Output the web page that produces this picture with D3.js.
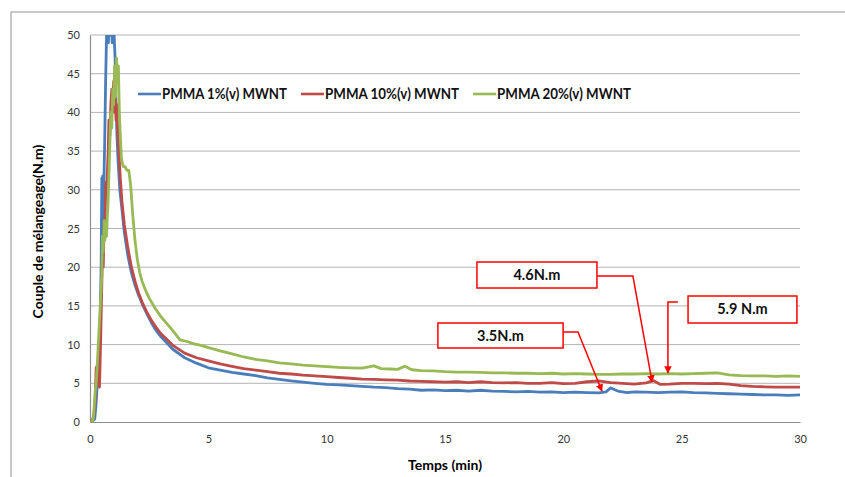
<!DOCTYPE html>
<html>
<head>
<meta charset="utf-8">
<script src="https://cdn.jsdelivr.net/npm/d3@7"></script>
<style>
  body { margin: 0; background: #fff; }
  text { font-family: Lato, "Open Sans", sans-serif; }
</style>
</head>
<body>
<script>
// [time (min), torque (N.m)]
var pmma1 = [[0,0],[0.1,0.1],[0.2,0.4],[0.25,2],[0.3,4.5],[0.33,7],[0.37,6],[0.4,9],[0.43,13],[0.47,20],
  [0.5,31.5],[0.52,24],[0.54,31.8],[0.56,22],[0.58,30],[0.62,36],[0.66,44],[0.7,50],[0.74,52],[0.78,49],
  [0.82,53],[0.86,50],[0.9,52],[0.94,49],[0.98,52],[1.02,50],[1.06,47],[1.1,41],[1.14,37],[1.19,33.5],
  [1.26,30],[1.35,27.5],[1.45,24.5],[1.6,21.5],[1.75,19.3],[1.9,17.7],[2.05,16.4],[2.2,15.3],[2.4,14],
  [2.6,12.8],[2.8,11.8],[3,11],[3.5,9.4],[4,8.3],[4.5,7.6],[5,7],[5.5,6.7],[6,6.4],[6.5,6.2],[7,6],
  [7.5,5.7],[8,5.5],[8.5,5.3],[9,5.15],[9.5,5],[10,4.85],[10.5,4.8],[11,4.7],[11.5,4.6],[12,4.5],
  [12.5,4.45],[13,4.3],[13.5,4.25],[14,4.1],[14.5,4.15],[15,4.05],[15.5,4.1],[16,4],[16.5,4.1],[17,4],
  [17.5,3.95],[18,3.9],[18.5,3.95],[19,3.85],[19.5,3.9],[20,3.8],[20.5,3.85],[21,3.8],[21.5,3.75],
  [21.8,3.9],[22,4.4],[22.3,4],[22.7,3.8],[23,3.9],[23.5,3.85],[24,3.8],[24.5,3.85],[25,3.9],[25.5,3.8],
  [26,3.75],[26.5,3.7],[27,3.65],[27.5,3.6],[28,3.55],[28.5,3.5],[29,3.5],[29.5,3.45],[30,3.5]];

var pmma10 = [[0,0],[0.1,0.2],[0.17,1],[0.22,3],[0.26,7],[0.3,7.2],[0.33,5],[0.36,7],[0.4,4.5],[0.43,8],
  [0.46,12],[0.5,18],[0.53,22],[0.56,20],[0.6,26],[0.63,25],[0.67,31],[0.7,30],[0.73,32],[0.77,35],
  [0.8,39],[0.84,37],[0.88,41],[0.92,43],[0.96,41],[1,44],[1.03,40],[1.06,43],[1.1,39],[1.13,41],
  [1.17,37.5],[1.22,35],[1.28,31.5],[1.35,28.5],[1.45,25.5],[1.6,22.5],[1.75,20],[1.9,18.2],[2.05,16.7],
  [2.2,15.5],[2.4,14.2],[2.6,13.1],[2.8,12.2],[3,11.4],[3.5,9.9],[4,8.9],[4.5,8.3],[5,7.9],[5.5,7.5],
  [6,7.2],[6.5,6.9],[7,6.7],[7.5,6.5],[8,6.3],[8.5,6.2],[9,6.05],[9.5,5.95],[10,5.85],[10.5,5.75],
  [11,5.65],[11.5,5.55],[12,5.5],[12.5,5.45],[13,5.4],[13.5,5.3],[14,5.25],[14.5,5.2],[15,5.15],
  [15.5,5.2],[16,5.1],[16.5,5.2],[17,5.1],[17.5,5.05],[18,5.1],[18.5,5],[19,5],[19.5,5.1],[20,4.95],
  [20.5,5],[21,5.2],[21.5,5.3],[22,5.1],[22.5,5],[23,4.9],[23.5,5.05],[23.8,5.35],[24.1,4.85],[24.5,4.9],
  [25,5],[25.5,5],[26,4.95],[26.5,5],[27,4.9],[27.5,4.7],[28,4.6],[28.5,4.55],[29,4.5],[29.5,4.5],[30,4.5]];

var pmma20 = [[0,0],[0.1,0],[0.14,0.5],[0.18,2],[0.22,4],[0.26,5],[0.3,7],[0.35,10],[0.4,13],[0.45,16],
  [0.5,19],[0.53,24],[0.56,22],[0.6,26],[0.63,23.5],[0.66,25.5],[0.7,24],[0.73,26.5],[0.76,28],[0.8,32],
  [0.84,36],[0.88,40],[0.92,38],[0.96,43],[1,41],[1.04,46],[1.08,42],[1.12,47],[1.16,44],[1.2,46],
  [1.24,40],[1.28,37],[1.33,34],[1.4,33],[1.48,33],[1.56,32.5],[1.64,32.5],[1.72,30.5],[1.8,27],
  [1.9,23.5],[2,21],[2.1,19.3],[2.2,18.2],[2.35,17],[2.5,16],[2.75,14.7],[3,13.6],[3.25,12.7],[3.5,11.8],
  [3.8,10.6],[4.1,10.4],[4.4,10.1],[4.7,9.9],[5,9.6],[5.5,9.2],[6,8.8],[6.5,8.4],[7,8.1],[7.5,7.9],
  [8,7.65],[8.5,7.5],[9,7.35],[9.5,7.25],[10,7.15],[10.5,7.05],[11,7],[11.5,6.95],[12,7.25],[12.3,6.9],
  [12.7,6.85],[13,6.8],[13.3,7.2],[13.6,6.75],[14,6.65],[14.5,6.6],[15,6.5],[15.5,6.45],[16,6.45],
  [16.5,6.4],[17,6.35],[17.5,6.35],[18,6.3],[18.5,6.3],[19,6.25],[19.5,6.3],[20,6.2],[20.5,6.25],
  [21,6.2],[21.5,6.15],[22,6.15],[22.5,6.2],[23,6.2],[23.5,6.25],[24,6.2],[24.5,6.25],[25,6.2],
  [25.5,6.25],[26,6.3],[26.5,6.35],[27,6.1],[27.5,6],[28,5.95],[28.5,5.95],[29,5.9],[29.5,5.95],[30,5.9]];

var seriesNames = ["PMMA 1%(v) MWNT", "PMMA 10%(v) MWNT", "PMMA 20%(v) MWNT"];
var xTicks = [0, 5, 10, 15, 20, 25, 30];
var yTicks = [0, 5, 10, 15, 20, 25, 30, 35, 40, 45, 50];

// callouts: label, box corners (t, v), leader points (t, v) ending on the curve
var noteLabels = ["4.6N.m", "5.9 N.m", "3.5N.m"];
var noteBoxes = [[16.35, 20.67, 21.42, 17.31], [25.27, 16.28, 29.87, 12.79], [14.7, 12.79, 19.99, 9.56]];
var noteLeaders = [
  [[21.42, 18.86], [22.94, 18.86], [23.75, 5.17]],
  [[24.84, 15.5], [24.42, 15.5], [24.42, 6.33]],
  [[19.99, 11.63], [20.62, 11.63], [21.63, 4.0]]
];

var colors = ["#4a7ebb", "#be4b48", "#98b954"];

var width = 845, height = 477;
var margin = {top: 35, right: 45, bottom: 55, left: 90};

var svg = d3.select("body").append("svg")
  .attr("width", width)
  .attr("height", height);

// outer chart frame (cut by the window)
svg.append("rect")
  .attr("x", 11).attr("y", 12)
  .attr("width", 900).attr("height", 600)
  .attr("fill", "none")
  .attr("stroke", "#a5a5a5")
  .attr("stroke-width", 1.2);

var x = d3.scaleLinear().domain([0, 30]).range([margin.left, width - margin.right]);
var y = d3.scaleLinear().domain([0, 50]).range([height - margin.bottom, margin.top]);

// gridlines
svg.append("g")
  .selectAll("line")
  .data(yTicks.slice(1))
  .enter().append("line")
  .attr("x1", x(0)).attr("x2", x(30))
  .attr("y1", d => y(d)).attr("y2", d => y(d))
  .attr("stroke", "#b4b4b4")
  .attr("stroke-width", 1);

// axes
var yAxis = d3.axisLeft(y).tickValues(yTicks).tickSize(0).tickPadding(10);
var gy = svg.append("g").attr("transform", "translate(" + x(0) + ",0)").call(yAxis);
var xAxis = d3.axisBottom(x).tickValues(xTicks).tickSize(0).tickPadding(13);
var gx = svg.append("g").attr("transform", "translate(0," + y(0) + ")").call(xAxis);

[gx, gy].forEach(function(g) {
  g.select(".domain").attr("stroke", "#8c8c8c").attr("stroke-width", 1.2);
  g.selectAll("text")
    .style("font-family", "Lato, sans-serif")
    .style("font-size", "11px")
    .attr("fill", "#333");
});

// clip so the peak is cut at 50
svg.append("clipPath").attr("id", "plotClip")
  .append("rect")
  .attr("x", x(0)).attr("y", y(50))
  .attr("width", x(30) - x(0)).attr("height", y(0) - y(50));

var line = d3.line()
  .x(d => x(d[0]))
  .y(d => y(d[1]));

var plot = svg.append("g").attr("clip-path", "url(#plotClip)");
[pmma1, pmma10, pmma20].forEach(function(s, i) {
  plot.append("path")
    .datum(s)
    .attr("d", line)
    .attr("fill", "none")
    .attr("stroke", colors[i])
    .attr("stroke-width", 2.8)
    .attr("stroke-linejoin", "round");
});

// legend
var legendX = [138, 301, 473];
var legendW = [125, 134, 134];
var legend = svg.append("g");
seriesNames.forEach(function(name, i) {
  legend.append("line")
    .attr("x1", legendX[i]).attr("x2", legendX[i] + 23)
    .attr("y1", 94).attr("y2", 94)
    .attr("stroke", colors[i]).attr("stroke-width", 2.6);
  legend.append("text")
    .attr("x", legendX[i] + 24).attr("y", 99)
    .attr("textLength", legendW[i])
    .attr("lengthAdjust", "spacingAndGlyphs")
    .style("font-size", "14.5px").style("font-weight", "bold")
    .attr("fill", "#111")
    .text(name);
});

// axis titles
svg.append("text")
  .attr("transform", "translate(43," + (y(25) + 3) + ") rotate(-90)")
  .attr("text-anchor", "middle")
  .style("font-size", "14px").style("font-weight", "bold")
  .text("Couple de mélangeage(N.m)");

svg.append("text")
  .attr("x", (x(0) + x(30)) / 2).attr("y", 470)
  .attr("text-anchor", "middle")
  .style("font-size", "14px").style("font-weight", "bold")
  .text("Temps (min)");

// callouts
svg.append("defs").append("marker")
  .attr("id", "arrow")
  .attr("viewBox", "0 0 10 10")
  .attr("refX", 9).attr("refY", 5)
  .attr("markerWidth", 5).attr("markerHeight", 5)
  .attr("orient", "auto")
  .append("path")
  .attr("d", "M0,0 L10,5 L0,10 z")
  .attr("fill", "#f00");

var leader = d3.line().x(d => x(d[0])).y(d => y(d[1]));

noteLabels.forEach(function(label, i) {
  var b = noteBoxes[i];
  svg.append("path")
    .attr("d", leader(noteLeaders[i]))
    .attr("fill", "none")
    .attr("stroke", "#f00")
    .attr("stroke-width", 1.5)
    .attr("marker-end", "url(#arrow)");
  svg.append("rect")
    .attr("x", x(b[0])).attr("y", y(b[1]))
    .attr("width", x(b[2]) - x(b[0])).attr("height", y(b[3]) - y(b[1]))
    .attr("fill", "#fff")
    .attr("stroke", "#f00")
    .attr("stroke-width", 1.5);
  svg.append("text")
    .attr("x", (x(b[0]) + x(b[2])) / 2)
    .attr("y", (y(b[1]) + y(b[3])) / 2 + 5)
    .attr("text-anchor", "middle")
    .style("font-size", "14.5px").style("font-weight", "bold")
    .attr("fill", "#111")
    .text(label);
});
</script>
</body>
</html>
